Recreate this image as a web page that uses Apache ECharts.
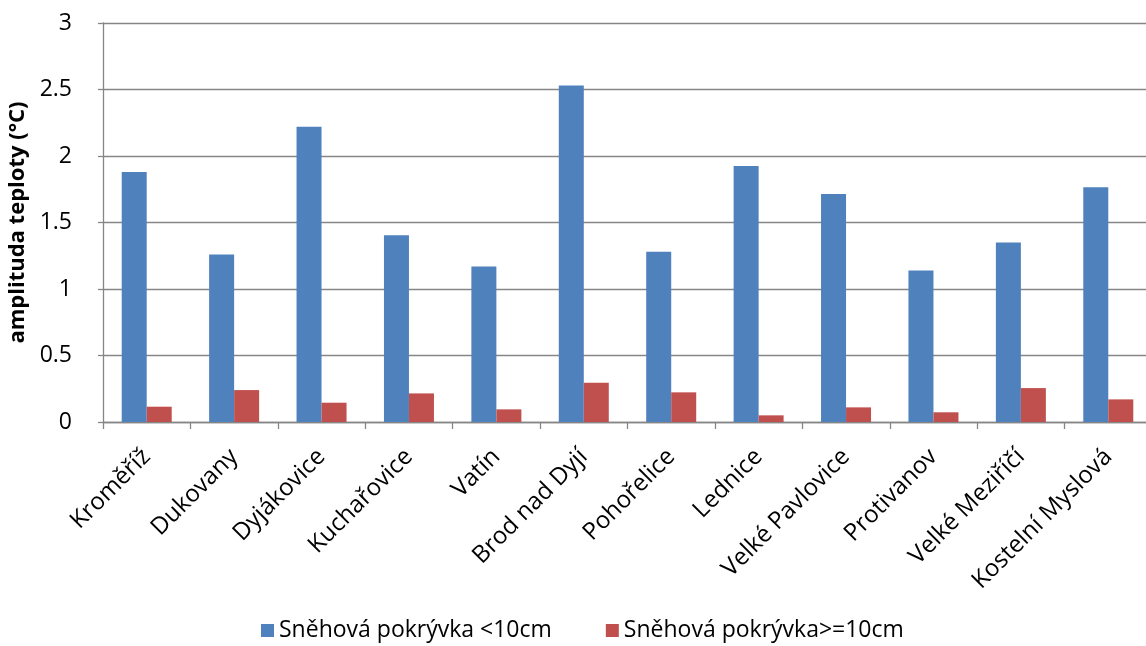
<!DOCTYPE html>
<html>
<head>
<meta charset="utf-8">
<script src="https://cdn.jsdelivr.net/npm/echarts@6/dist/echarts.min.js"></script>
<style>
html,body{margin:0;padding:0;background:#fff;}
#chart{width:1146px;height:646px;}
</style>
</head>
<body>
<div id="chart"></div>
<script>
const categories = ['Kroměříž','Dukovany','Dyjákovice','Kuchařovice','Vatín','Brod nad Dyjí','Pohořelice','Lednice','Velké Pavlovice','Protivanov','Velké Meziříčí','Kostelní Myslová'];
const seriesNames = ['Sněhová pokrývka <10cm','Sněhová pokrývka>=10cm'];
const snowBelow10 = [1.88,1.26,2.22,1.405,1.17,2.53,1.28,1.925,1.715,1.14,1.35,1.765];
const snowAbove10 = [0.115,0.24,0.145,0.215,0.095,0.295,0.223,0.05,0.11,0.073,0.255,0.17];
const yAxisTitle = 'amplituda teploty (°C)';

const FONT = '"Open Sans", sans-serif';
const chart = echarts.init(document.getElementById('chart'), null, {renderer:'canvas'});
chart.setOption({
  animation:false,
  backgroundColor:'#ffffff',
  grid:{left:103,right:-6,top:23,bottom:224,containLabel:false,outerBoundsMode:'none'},
  legend:{
    bottom:-1,left:256,
    itemWidth:13,itemHeight:13,itemGap:54,
    icon:'rect',
    textStyle:{fontFamily:FONT,fontSize:23,color:'#000'},
    data:seriesNames
  },
  xAxis:{
    type:'category',
    data:categories,
    axisLine:{lineStyle:{color:'#868686',width:1.3}},
    axisTick:{show:true,length:7,inside:false,lineStyle:{color:'#868686',width:1.3},alignWithLabel:false},
    axisLabel:{rotate:45,margin:31,interval:0,fontFamily:FONT,fontSize:24,color:'#000'}
  },
  yAxis:{
    type:'value',min:0,max:3,interval:0.5,
    name:yAxisTitle,nameLocation:'middle',nameGap:69,
    nameTextStyle:{fontFamily:FONT,fontSize:22,fontWeight:'bold',color:'#000'},
    axisLine:{show:true,lineStyle:{color:'#868686',width:1.3}},
    axisTick:{show:true,length:5,lineStyle:{color:'#868686',width:1.3}},
    axisLabel:{margin:31,fontFamily:FONT,fontSize:23,color:'#000'},
    splitLine:{show:true,lineStyle:{color:'#868686',width:1.3}}
  },
  series:[
    {name:seriesNames[0],type:'bar',data:snowBelow10,barWidth:25,barGap:'0%',itemStyle:{color:'#4F81BD'}},
    {name:seriesNames[1],type:'bar',data:snowAbove10,barWidth:25,barGap:'0%',itemStyle:{color:'#C0504D'}}
  ]
});
</script>
</body>
</html>
